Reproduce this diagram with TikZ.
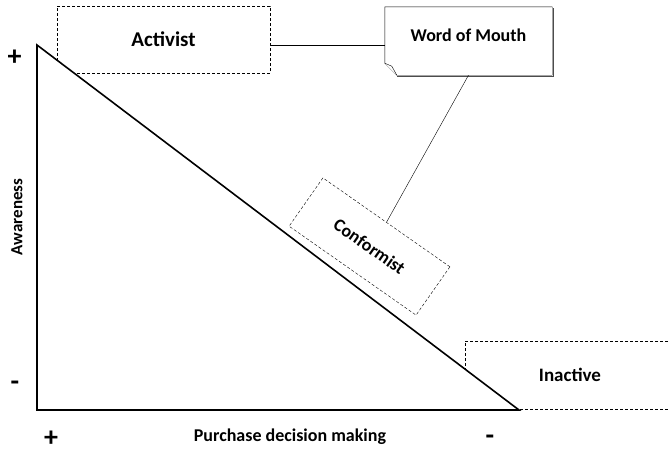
\documentclass[tikz,border=0pt]{standalone}
\usepackage{fontspec}
\setmainfont{Carlito}
\usetikzlibrary{positioning, calc}

\begin{document}
\begin{tikzpicture}[
    x=1pt, y=-1pt,
    segbox/.style={draw, densely dashed, thin, rectangle, fill=white,
                   inner sep=0pt, font=\bfseries\fontsize{18}{20}\selectfont},
    sign/.style={font=\bfseries\fontsize{28}{30}\selectfont, inner sep=0pt},
    axislabel/.style={font=\bfseries\fontsize{17}{19}\selectfont, inner sep=0pt},
]
\useasboundingbox (0,0) rectangle (670,451);
\clip (0,0) rectangle (670,451);

% =================================================================
%  SEGMENT BOXES
% =================================================================
\node[segbox, minimum width=213pt, minimum height=67pt,
      font=\bfseries\fontsize{21}{23}\selectfont]
      (activist) at (163.5, 39.5) {Activist};
\node[segbox, minimum width=210pt, minimum height=68pt,
      font=\bfseries\fontsize{19}{21}\selectfont]
      (inactive) at (570, 375) {Inactive};
\node[segbox, minimum width=155pt, minimum height=59pt, rotate=-35]
      (conformist) at (369.5, 246.5) {Conformist};

% =================================================================
%  TRIANGLE  (drawn over the boxes)
% =================================================================
\coordinate (top)    at (37, 45);
\coordinate (origin) at (37, 410);
\coordinate (right)  at (519, 410);
\draw[line width=1.6pt, fill=white, line join=miter] (top) -- (origin) -- (right) -- cycle;

% =================================================================
%  WORD OF MOUTH NOTE
% =================================================================
\node[inner sep=0pt, minimum width=167pt, minimum height=68pt] (wom) at (468.5, 41) {};
\draw[black!70, line width=1.4pt]
    ($(wom.north east)+(1.2,1.5)$) -- ($(wom.south east)+(1.2,1.2)$)
    -- ($(wom.south west)+(12,1.2)$);
\draw[thin, fill=white]
    (wom.north west) -- (wom.north east) -- (wom.south east)
    -- ($(wom.south west)+(12,0)$) -- ($(wom.south west)+(0,-12)$) -- cycle;
\draw[thin, fill=white]
    ($(wom.south west)+(0,-12)$) -- ($(wom.south west)+(7,-9)$)
    -- ($(wom.south west)+(12,0)$);
\node[inner sep=0pt, font=\bfseries\fontsize{18}{20}\selectfont]
    (womtext) at (wom.center) [yshift=6pt] {Word of Mouth};

% connectors
\draw[thin] ([yshift=-5.5pt]activist.east) -- ([yshift=-4pt]wom.west);
\draw[thin] (wom.south) -- (conformist.north);

% =================================================================
%  AXIS SIGNS AND LABELS
% =================================================================
\node[sign] (plusy)  at (14.5, 57.5) {+};
\node[sign] (minusy) at (15, 386)  {-};
\node[sign] (plusx)  at (51, 439)  {+};
\node[sign] (minusx) at (490, 440) {-};

\node[axislabel, rotate=90] (aware) at (17, 217) {Awareness};
\node[axislabel, font=\bfseries\fontsize{18}{20}\selectfont]
    (purchase) at (290, 437) {Purchase decision making};

\end{tikzpicture}
\end{document}
